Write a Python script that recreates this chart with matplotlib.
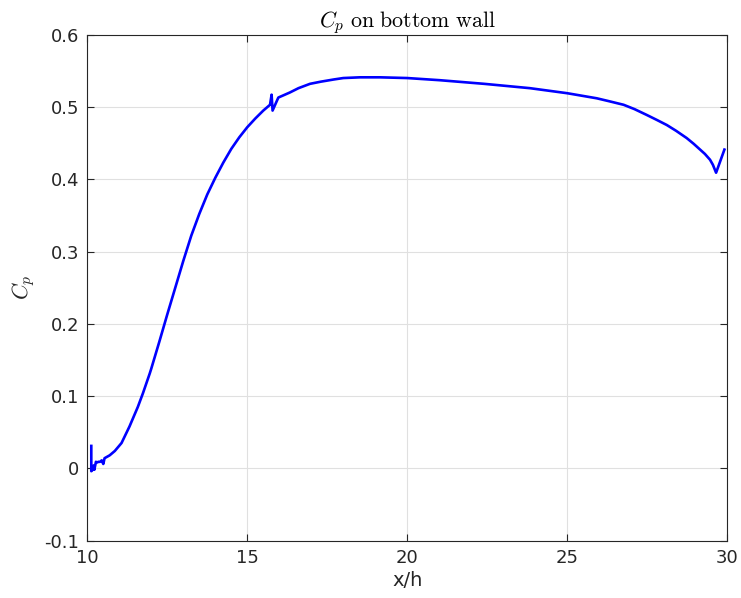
#! /usr/bin/env python3
import matplotlib
matplotlib.use('Agg')
import matplotlib.pyplot as plt

# Cp along the bottom wall
x_h = [10.125, 10.125, 10.15, 10.2, 10.22, 10.27, 10.3, 10.35, 10.4, 10.45,
       10.5, 10.54, 10.7, 10.86, 11.07, 11.32, 11.58, 11.74, 11.95,
       12.0, 12.25, 12.5, 12.75, 13.0, 13.25, 13.5, 13.75, 14.0, 14.25,
       14.5, 14.75, 15.0, 15.25, 15.5, 15.71, 15.76, 15.79, 15.97, 16.33,
       16.6, 16.96, 17.3, 17.7, 18.0, 18.52, 19.15, 20.0, 21.02, 22.4,
       23.83, 25.0, 25.92, 26.3, 26.76, 27.1, 27.48, 27.8, 28.11, 28.4,
       28.73, 28.95, 29.15, 29.3, 29.46, 29.55, 29.65, 29.91]
cp = [0.031, -0.004, -0.003, 0.004, -0.002, 0.009, 0.008, 0.009, 0.009,
      0.011, 0.006, 0.014, 0.018, 0.024, 0.035, 0.058, 0.085, 0.104,
      0.131, 0.138, 0.175, 0.213, 0.250, 0.287, 0.322, 0.352, 0.379,
      0.402, 0.423, 0.442, 0.458, 0.472, 0.484, 0.495, 0.503, 0.517,
      0.495, 0.513, 0.520, 0.526, 0.532, 0.535, 0.538, 0.540, 0.541,
      0.541, 0.540, 0.537, 0.532, 0.526, 0.519, 0.512, 0.508, 0.503,
      0.497, 0.489, 0.482, 0.475, 0.467, 0.457, 0.449, 0.441, 0.435,
      0.427, 0.420, 0.409, 0.441]

x_ticks = [10, 15, 20, 25, 30]
y_ticks = [-0.1, 0, 0.1, 0.2, 0.3, 0.4, 0.5, 0.6]
y_labels = ['-0.1', '0', '0.1', '0.2', '0.3', '0.4', '0.5', '0.6']


def main():
    plt.rcParams['mathtext.fontset'] = 'cm'
    axcol = (0.15, 0.15, 0.15)

    fig = plt.figure(figsize=(7.41, 5.98), dpi=100)
    ax = fig.add_axes([0.1178, 0.096, 0.8637, 0.846])
    ax.plot(x_h, cp, color=(0, 0, 1), lw=1.9, solid_joinstyle='round')

    ax.set_xlim(10, 30)
    ax.set_ylim(-0.1, 0.6)
    ax.set_xticks(x_ticks)
    ax.set_yticks(y_ticks)
    ax.set_yticklabels(y_labels)
    ax.grid(True, color=(0.88, 0.88, 0.88), lw=0.8)
    ax.set_axisbelow(True)
    ax.tick_params(direction='in', top=True, right=True, length=5,
                   width=0.8, color=axcol, labelcolor=axcol,
                   labelsize=13, pad=6)
    for s in ax.spines.values():
        s.set_color(axcol)
        s.set_linewidth(0.8)

    ax.set_xlabel('x/h', fontsize=14, color=axcol, labelpad=3)
    ax.set_ylabel(r'$C_p$', fontsize=16, color=axcol, labelpad=5)
    ax.set_title(r'$C_p\ \mathrm{on\ bottom\ wall}$', fontsize=15.8,
                 color='black', pad=5)

    fig.savefig('out.png', dpi=100)


if __name__ == '__main__':
    main()
